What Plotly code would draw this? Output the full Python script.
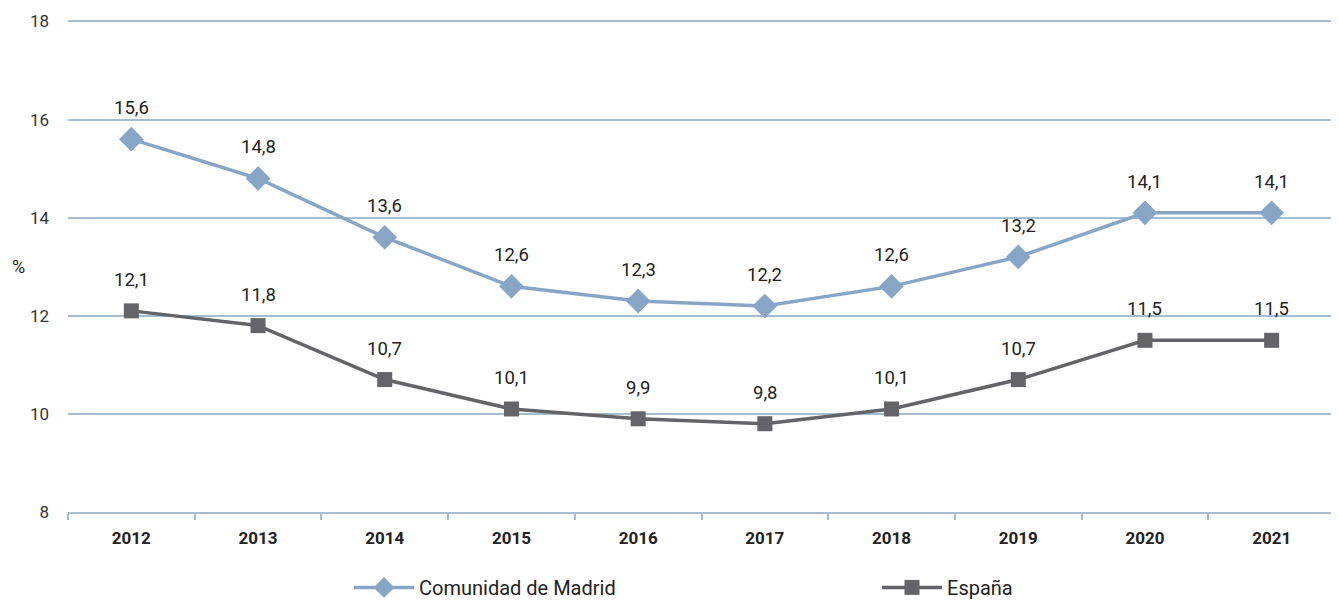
import plotly.graph_objects as go

years = ["2012", "2013", "2014", "2015", "2016", "2017", "2018", "2019", "2020", "2021"]
madrid = [15.6, 14.8, 13.6, 12.6, 12.3, 12.2, 12.6, 13.2, 14.1, 14.1]
espana = [12.1, 11.8, 10.7, 10.1, 9.9, 9.8, 10.1, 10.7, 11.5, 11.5]
yticks = [8, 10, 12, 14, 16, 18]

FONT = "Roboto, Liberation Sans, sans-serif"
C_MAD = "#87A6C6"
C_ESP = "#646468"
GRID = "#A8BCD0"

fig = go.Figure()
fig.add_trace(go.Scatter(x=years, y=madrid, name="Comunidad de Madrid", mode="lines+markers",
                         line=dict(color=C_MAD, width=3.5),
                         marker=dict(symbol="diamond", size=19, color=C_MAD),
                         legend="legend"))
fig.add_trace(go.Scatter(x=years, y=espana, name="España", mode="lines+markers",
                         line=dict(color=C_ESP, width=3.5),
                         marker=dict(symbol="square", size=15, color=C_ESP),
                         legend="legend2"))

for series in (madrid, espana):
    for i, v in enumerate(series):
        fig.add_annotation(x=i, y=v, text=f"{v:.1f}".replace(".", ","), showarrow=False,
                           yshift=31, font=dict(family=FONT, size=18.5, color="#222"))

fig.add_annotation(xref="paper", yref="paper", x=-0.039, y=0.5, text="%", showarrow=False,
                   xanchor="center", font=dict(family=FONT, size=18, color="#222"))

legend_common = dict(orientation="h", xref="container", yref="container",
                     xanchor="left", yanchor="top", y=0.059, itemwidth=60,
                     bgcolor="rgba(0,0,0,0)",
                     font=dict(family=FONT, size=20, color="#222"))

fig.update_layout(
    width=1331, height=595,
    margin=dict(l=60, r=4, t=12, b=91, autoexpand=False),
    plot_bgcolor="white", paper_bgcolor="white",
    font=dict(family=FONT, size=17, color="#222"),
    showlegend=True,
    legend=dict(x=0.2562, **legend_common),
    legend2=dict(x=0.6529, **legend_common),
    xaxis=dict(type="category", range=[-0.5, 9.5], showgrid=False, showline=True,
               linecolor=GRID, linewidth=2,
               ticks="outside", tickson="boundaries", tickcolor=GRID, ticklen=6, tickwidth=2,
               ticklabelstandoff=10,
               tickfont=dict(family=FONT, size=17, color="#222", weight="bold")),
    yaxis=dict(range=[8, 18.03], tickvals=yticks, showgrid=True, gridcolor=GRID, gridwidth=1.5,
               zeroline=False, showline=False, ticks="", ticklabelstandoff=18,
               tickfont=dict(family=FONT, size=17, color="#333")),
)

fig.write_html("out.html")
